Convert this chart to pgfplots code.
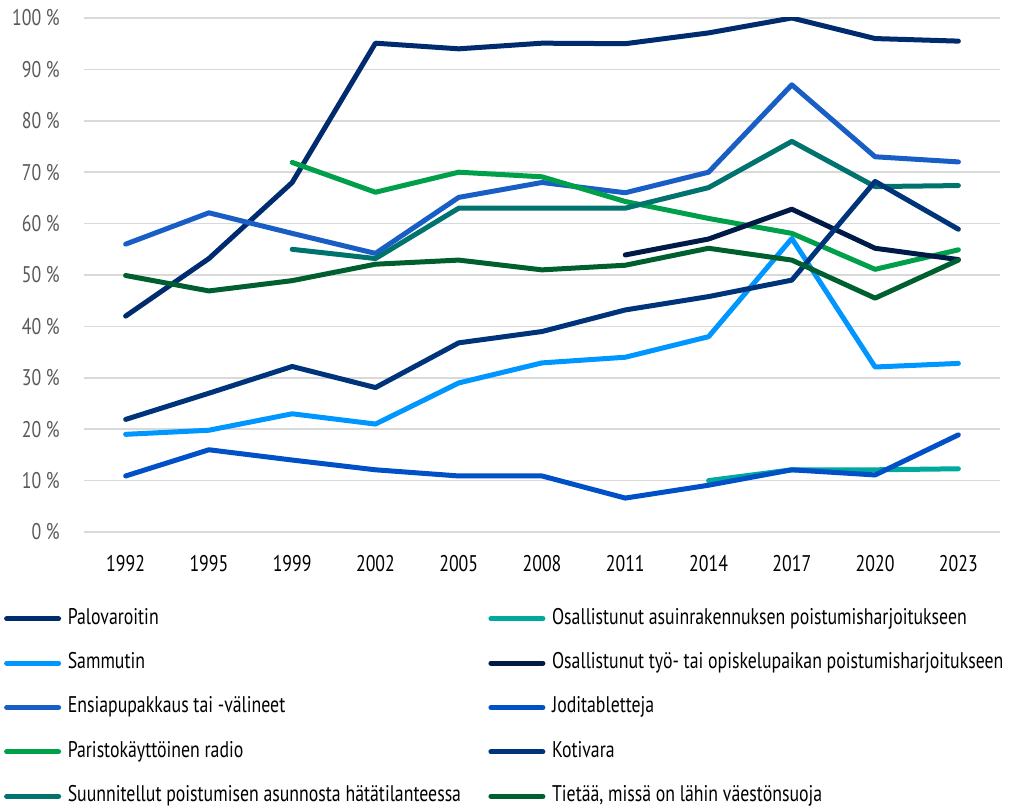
\documentclass[border=0pt]{standalone}
\usepackage{fontspec}
\setmainfont[FakeStretch=0.785]{PT Sans}
\usepackage{pgfplots}
\pgfplotsset{compat=1.18}
\definecolor{cPalo}{HTML}{002B6E}
\definecolor{cSamm}{HTML}{0096FF}
\definecolor{cEnsi}{HTML}{185EC4}
\definecolor{cRadio}{HTML}{00A04B}
\definecolor{cSuun}{HTML}{00736E}
\definecolor{cAsuin}{HTML}{00A99D}
\definecolor{cTyo}{HTML}{001A47}
\definecolor{cJodi}{HTML}{0050C8}
\definecolor{cKoti}{HTML}{00347A}
\definecolor{cTiet}{HTML}{005F2E}
\definecolor{gridc}{HTML}{D9D9D9}
\definecolor{ytc}{HTML}{595959}
\begin{document}
\fontsize{17pt}{20pt}\selectfont
\begin{tikzpicture}
\useasboundingbox (-63pt,-207.75pt) rectangle (702pt,399pt);
\begin{axis}[
  scale only axis, width=687pt, height=385.5pt,
  at={(0,0)}, anchor=south west,
  xmin=-0.5, xmax=10.5, ymin=0, ymax=100,
  xtick={0,...,10},
  xticklabels={1992,1995,1999,2002,2005,2008,2011,2014,2017,2020,2023},
  ytick={10,20,...,100},
  extra y ticks={0},
  extra y tick style={grid style={black, line width=3.2pt}},
  yticklabel={\pgfmathprintnumber{\tick}~\%},
  /pgf/number format/assume math mode=true,
  axis line style={draw=none},
  major tick length=0pt,
  ymajorgrids,
  major grid style={gridc, line width=1.1pt},
  yticklabel style={text=ytc, anchor=east, inner sep=0pt},
  yticklabel shift=18pt,
  xticklabel style={text=black, anchor=north, inner sep=0pt},
  xticklabel shift=17pt,
  every axis plot/.append style={line width=3.75pt, line cap=round, line join=round},
  legend columns=5, transpose legend,
  legend cell align=left,
  legend image code/.code={\draw[line width=3.75pt, line cap=round] (0pt,0pt) -- (39pt,0pt);},
  legend style={draw=none, fill=none, inner sep=0pt, outer sep=0pt,
    at={(-0.0872,-0.148)}, anchor=north west,
    row sep=17.3pt,
    nodes={inner sep=0pt, text height=12pt, text depth=4pt},
    /tikz/every odd column/.append style={column sep=5pt},
    /tikz/every even column/.append style={column sep=20.5pt}},
]
\addplot[cPalo] coordinates {(0,42)(1,53.2)(2,68)(3,95.1)(4,94)(5,95.1)(6,95)(7,97.1)(8,100)(9,96)(10,95.5)};
\addlegendentry{Palovaroitin}
\addplot[cSamm] coordinates {(0,19)(1,19.8)(2,23)(3,21)(4,29)(5,32.9)(6,34)(7,38)(8,57.1)(9,32.1)(10,32.8)};
\addlegendentry{Sammutin}
\addplot[cEnsi] coordinates {(0,56)(1,62.1)(2,58.1)(3,54.2)(4,65.1)(5,68)(6,66)(7,70)(8,87)(9,73)(10,72)};
\addlegendentry{Ensiapupakkaus tai -välineet}
\addplot[cRadio] coordinates {(2,71.9)(3,66.1)(4,70)(5,69.1)(6,64.3)(7,61)(8,58.1)(9,51.1)(10,54.9)};
\addlegendentry{Paristokäyttöinen radio}
\addplot[cSuun] coordinates {(2,55)(3,53.2)(4,63)(5,63)(6,63)(7,67)(8,76)(9,67.2)(10,67.4)};
\addlegendentry{Suunnitellut poistumisen asunnosta hätätilanteessa}
\addplot[cAsuin] coordinates {(7,10)(8,12.1)(9,12.1)(10,12.3)};
\addlegendentry{Osallistunut asuinrakennuksen poistumisharjoitukseen}
\addplot[cTyo] coordinates {(6,53.9)(7,57)(8,62.8)(9,55.2)(10,53)};
\addlegendentry{Osallistunut työ- tai opiskelupaikan poistumisharjoitukseen}
\addplot[cJodi] coordinates {(0,10.9)(1,16)(2,14)(3,12.1)(4,10.9)(5,10.9)(6,6.6)(7,9.1)(8,12.1)(9,11.1)(10,18.9)};
\addlegendentry{Joditabletteja}
\addplot[cKoti] coordinates {(0,21.9)(1,27)(2,32.2)(3,28.1)(4,36.8)(5,39)(6,43.2)(7,45.8)(8,49)(9,68.2)(10,58.9)};
\addlegendentry{Kotivara}
\addplot[cTiet] coordinates {(0,49.9)(1,46.9)(2,48.9)(3,52.1)(4,52.9)(5,51)(6,51.9)(7,55.2)(8,52.9)(9,45.5)(10,52.9)};
\addlegendentry{Tietää, missä on lähin väestönsuoja}
\end{axis}
\end{tikzpicture}
\end{document}
